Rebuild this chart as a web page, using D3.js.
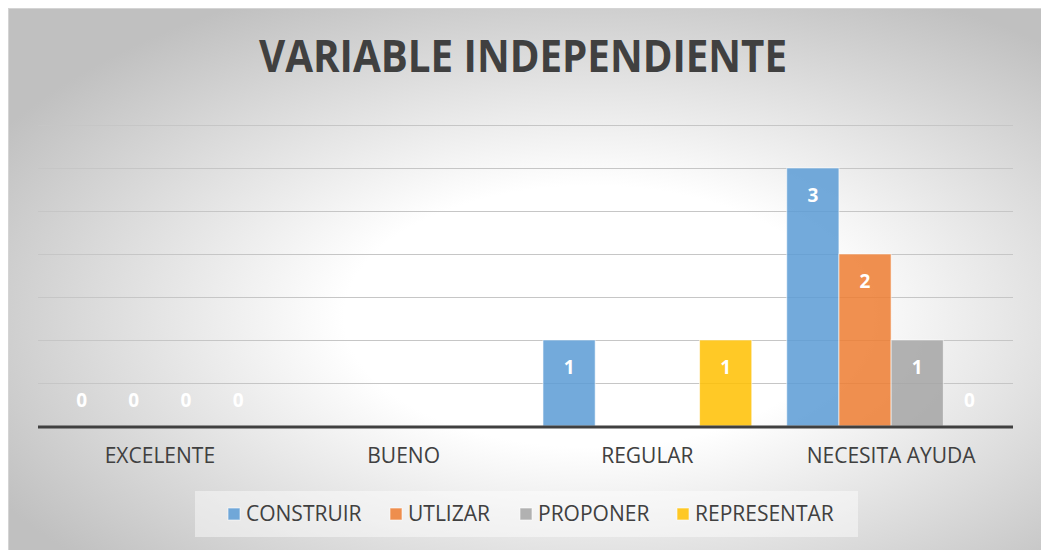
<!DOCTYPE html>
<html>
<head>
<meta charset="utf-8">
<script src="https://cdn.jsdelivr.net/npm/d3@7"></script>
<style>
  body { margin: 0; background: #fff; }
  svg { display: block; font-family: "Open Sans", sans-serif; }
</style>
</head>
<body>
<script>
// chart data
var categories = ["EXCELENTE", "BUENO", "REGULAR", "NECESITA AYUDA"];
var series = ["CONSTRUIR", "UTLIZAR", "PROPONER", "REPRESENTAR"];
var colors = ["#5b9bd5", "#ed7d31", "#a5a5a5", "#ffc000"];
// values per series, in category order
var construir = [0, 0, 1, 3];
var utlizar = [0, 0, 0, 2];
var proponer = [0, 0, 0, 1];
var representar = [0, 0, 1, 0];
// which data labels are shown (Excel left some out)
var labelShown = [
  [true, true, true, true],
  [false, false, false, false],
  [true, false, false, true],
  [true, true, true, true]
];
var yTicks = [0, 0.5, 1, 1.5, 2, 2.5, 3, 3.5];
var title = "VARIABLE INDEPENDIENTE";

var W = 1041, H = 550;
var values = [construir, utlizar, proponer, representar];

var svg = d3.select("body").append("svg").attr("width", W).attr("height", H);
var defs = svg.append("defs");
var grad = defs.append("radialGradient").attr("id", "bg")
  .attr("cx", "0.56").attr("cy", "0.56").attr("r", "0.66");
grad.append("stop").attr("offset", "0%").attr("stop-color", "#ffffff");
grad.append("stop").attr("offset", "36%").attr("stop-color", "#ffffff");
grad.append("stop").attr("offset", "100%").attr("stop-color", "#c0c0c0");

svg.append("rect").attr("x", 8.5).attr("y", 8.5).attr("width", W).attr("height", H)
  .attr("fill", "url(#bg)").attr("stroke", "#d4d4d4");

svg.append("text").attr("x", 523).attr("y", 72).attr("text-anchor", "middle")
  .attr("font-size", 44).attr("font-weight", "bold").attr("fill", "#404040")
  .attr("textLength", 528).attr("lengthAdjust", "spacingAndGlyphs")
  .text(title);

var x0 = d3.scaleBand().domain(categories).range([38, 1013]);
var x1 = d3.scaleBand().domain(series).range([0, x0.bandwidth()]).paddingOuter(0.335);
var y = d3.scaleLinear().domain([0, 3.5]).range([426, 125]);

// gridlines
svg.append("g").selectAll("line").data(yTicks.filter(function(t){ return t > 0; })).enter()
  .append("line")
  .attr("x1", 38).attr("x2", 1013)
  .attr("y1", function(d){ return Math.round(y(d)) + 0.5; })
  .attr("y2", function(d){ return Math.round(y(d)) + 0.5; })
  .attr("stroke", "#c6c6c6").attr("stroke-width", 1);

// bars
var groups = svg.append("g").selectAll("g").data(categories).enter().append("g")
  .attr("transform", function(d){ return "translate(" + x0(d) + ",0)"; });

groups.each(function(cat, ci){
  var g = d3.select(this);
  series.forEach(function(s, si){
    var v = values[si][ci];
    if (v > 0) {
      g.append("rect")
        .attr("x", x1(s)).attr("y", y(v))
        .attr("width", x1.bandwidth()).attr("height", y(0) - y(v))
        .attr("fill", colors[si]).attr("fill-opacity", 0.85)
        .attr("stroke", "#ffffff").attr("stroke-opacity", 0.6).attr("stroke-width", 1);
    }
    if (labelShown[ci][si]) {
      g.append("text")
        .attr("x", x1(s) + x1.bandwidth() / 2)
        .attr("y", v > 0 ? y(v) + 27 : y(0) - 26)
        .attr("dy", "0.35em").attr("text-anchor", "middle")
        .attr("font-size", 19).attr("font-weight", "bold").attr("fill", "#ffffff")
        .text(v);
    }
  });
});

// baseline
svg.append("line").attr("x1", 38).attr("x2", 1013).attr("y1", y(0) + 1).attr("y2", y(0) + 1)
  .attr("stroke", "#404040").attr("stroke-width", 3);

// category axis
var xAxis = svg.append("g").attr("transform", "translate(0," + (y(0) + 2) + ")")
  .call(d3.axisBottom(x0).tickSize(0).tickPadding(20));
xAxis.select(".domain").remove();
xAxis.selectAll("text").attr("font-size", 21).attr("fill", "#404040")
  .attr("font-family", "'Open Sans', sans-serif");

// legend
var legend = svg.append("g");
legend.append("rect").attr("x", 195).attr("y", 491).attr("width", 663).attr("height", 46)
  .attr("fill", "#ffffff").attr("fill-opacity", 0.45);
var legendX = [228, 390, 520, 677];
series.forEach(function(s, i){
  legend.append("rect").attr("x", legendX[i]).attr("y", 508).attr("width", 12).attr("height", 12)
    .attr("fill", colors[i]).attr("fill-opacity", 0.85)
    .attr("stroke", "#ffffff").attr("stroke-opacity", 0.6);
  legend.append("text").attr("x", legendX[i] + 18).attr("y", 514).attr("dy", "0.35em")
    .attr("font-size", 21).attr("fill", "#404040").text(s);
});
</script>
</body>
</html>
